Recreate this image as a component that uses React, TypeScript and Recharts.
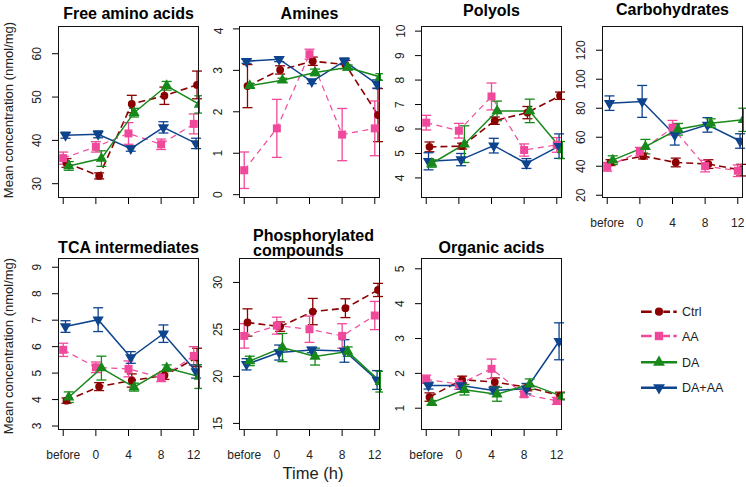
import React from 'react';
import { LineChart, Line, XAxis, YAxis, ErrorBar } from 'recharts';

const TIMES = ['before', '0', '4', '8', '12'];
const GROUPS = ['Ctrl', 'AA', 'DA', 'DA+AA'];

// Free amino acids
const FAA_MEAN = { Ctrl: [34.8, 31.8, 48.4, 50.3, 52.8], AA: [35.9, 38.5, 41.6, 39.1, 43.8], DA: [34.1, 35.8, 46.4, 52.6, 48.3], 'DA+AA': [41.2, 41.4, 38.1, 43.0, 39.3] };
const FAA_SE = { Ctrl: [1.0, 0.7, 2.0, 2.0, 3.2], AA: [1.4, 1.2, 2.5, 1.2, 2.3], DA: [1.0, 1.8, 1.0, 1.0, 2.0], 'DA+AA': [0.7, 0.8, 0.6, 1.3, 1.2] };

// Amines
const AMI_MEAN = { Ctrl: [2.62, 3.01, 3.22, 3.14, 1.92], AA: [0.59, 1.6, 3.39, 1.45, 1.6], DA: [2.63, 2.76, 2.95, 3.07, 2.84], 'DA+AA': [3.22, 3.27, 2.73, 3.22, 2.67] };
const AMI_SE = { Ctrl: [0.52, 0.1, 0.1, 0.1, 0.64], AA: [0.44, 0.7, 0.12, 0.63, 0.66], DA: [0.05, 0.05, 0.08, 0.06, 0.08], 'DA+AA': [0.05, 0.06, 0.05, 0.08, 0.1] };

// Polyols
const POL_MEAN = { Ctrl: [5.27, 5.3, 6.34, 6.67, 7.36], AA: [6.26, 5.93, 7.33, 5.14, 5.35], DA: [4.59, 5.38, 6.74, 6.74, 5.14], 'DA+AA': [4.68, 4.75, 5.32, 4.59, 5.3] };
const POL_SE = { Ctrl: [0.2, 0.12, 0.15, 0.25, 0.15], AA: [0.3, 0.3, 0.55, 0.25, 0.3], DA: [0.15, 0.75, 0.4, 0.48, 0.35], 'DA+AA': [0.35, 0.25, 0.3, 0.2, 0.5] };

// Carbohydrates
const CAR_MEAN = { Ctrl: [42.5, 47, 42.6, 41.5, 37.3], AA: [39.6, 50, 66.6, 40.1, 36.9], DA: [44.2, 53.5, 65.5, 69.7, 72], 'DA+AA': [83.5, 84.7, 61.6, 68.5, 57.4] };
const CAR_SE = { Ctrl: [2, 2, 3, 3, 4], AA: [3, 3, 5, 4, 4], DA: [3, 5, 4, 3, 8], 'DA+AA': [5, 11, 7, 5, 5] };

// TCA intermediates
const TCA_MEAN = { Ctrl: [3.96, 4.49, 4.72, 4.91, 5.59], AA: [5.88, 5.22, 5.16, 4.83, 5.65], DA: [4.09, 5.19, 4.47, 5.19, 4.87], 'DA+AA': [6.76, 7.02, 5.59, 6.49, 5.06] };
const TCA_SE = { Ctrl: [0.1, 0.15, 0.25, 0.15, 0.35], AA: [0.25, 0.2, 0.3, 0.15, 0.35], DA: [0.2, 0.45, 0.15, 0.12, 0.45], 'DA+AA': [0.22, 0.45, 0.22, 0.33, 0.25] };

// Phosphorylated compounds
const PHO_MEAN = { Ctrl: [25.74, 25.3, 26.9, 27.26, 29.2], AA: [24.31, 25.4, 25.02, 24.31, 26.48], DA: [21.65, 23.07, 22.11, 22.64, 19.44], 'DA+AA': [21.29, 22.54, 22.82, 22.71, 19.62] };
const PHO_SE = { Ctrl: [1.45, 0.5, 1.4, 1.0, 0.7], AA: [1.3, 0.9, 1.4, 1.3, 1.5], DA: [0.5, 1.5, 0.9, 0.5, 1.1], 'DA+AA': [0.6, 0.8, 0.3, 1.2, 1.0] };

// Organic acids
const ORG_MEAN = { Ctrl: [1.32, 1.82, 1.75, 1.6, 1.36], AA: [1.83, 1.69, 2.13, 1.4, 1.21], DA: [1.16, 1.53, 1.4, 1.69, 1.34], 'DA+AA': [1.65, 1.65, 1.51, 1.56, 2.92] };
const ORG_SE = { Ctrl: [0.12, 0.1, 0.12, 0.1, 0.1], AA: [0.12, 0.15, 0.28, 0.08, 0.1], DA: [0.06, 0.15, 0.2, 0.15, 0.1], 'DA+AA': [0.1, 0.1, 0.1, 0.15, 0.53] };

const STYLE: Record<string, any> = {
  Ctrl: { color: '#8B0000', dash: '7 4', width: 1.6, shape: 'circle', shift: 0.1 },
  AA: { color: '#F0489A', dash: '6 4.5', width: 1.2, shape: 'square', shift: 0 },
  DA: { color: '#17891A', dash: undefined, width: 1.5, shape: 'up', shift: 0.17 },
  'DA+AA': { color: '#0E448E', dash: undefined, width: 1.5, shape: 'down', shift: 0.07 },
};
const DRAW_ORDER = ['Ctrl', 'AA', 'DA+AA', 'DA'];

const FONT = '"Liberation Sans", Arial, Helvetica, sans-serif';
const COL_X = [58, 239, 421, 602];
const ROW_Y = [26, 258];
const BOX_W = 141;
const BOX_H = 172;
const Y_AXIS_W = 50;
const X_AXIS_H = 36;
const M_TOP = 4;
const M_RIGHT = 3;
const X_DOMAIN = [-0.16, 4.16];

const PANELS = [
  { title: 'Free amino acids', col: 0, row: 0, mean: FAA_MEAN, se: FAA_SE, domain: [26.7, 66.4], ticks: [30, 40, 50, 60], xLabels: false },
  { title: 'Amines', col: 1, row: 0, mean: AMI_MEAN, se: AMI_SE, domain: [-0.08, 4.07], ticks: [0, 1, 2, 3, 4], xLabels: false },
  { title: 'Polyols', col: 2, row: 0, mean: POL_MEAN, se: POL_SE, domain: [3.18, 10.21], ticks: [4, 5, 6, 7, 8, 9, 10], xLabels: false },
  { title: 'Carbohydrates', col: 3, row: 0, mean: CAR_MEAN, se: CAR_SE, domain: [18.1, 136.7], ticks: [20, 40, 60, 80, 100, 120], xLabels: true },
  { title: 'TCA intermediates', col: 0, row: 1, mean: TCA_MEAN, se: TCA_SE, domain: [2.85, 9.35], ticks: [3, 4, 5, 6, 7, 8, 9], xLabels: true },
  { title: 'Phosphorylated compounds', col: 1, row: 1, mean: PHO_MEAN, se: PHO_SE, domain: [14.3, 32.6], ticks: [15, 20, 25, 30], xLabels: true },
  { title: 'Organic acids', col: 2, row: 1, mean: ORG_MEAN, se: ORG_SE, domain: [0.375, 5.31], ticks: [1, 2, 3, 4, 5], xLabels: true },
];

// title baselines as they sit in the figure
const TITLES = [
  { text: 'Free amino acids', x: 128.5, y: 19, anchor: 'middle' },
  { text: 'Amines', x: 309.5, y: 18.5, anchor: 'middle' },
  { text: 'Polyols', x: 491.5, y: 15.5, anchor: 'middle' },
  { text: 'Carbohydrates', x: 672.5, y: 14.5, anchor: 'middle' },
  { text: 'TCA intermediates', x: 128.5, y: 253, anchor: 'middle' },
  { text: 'Phosphorylated', x: 253, y: 241, anchor: 'start' },
  { text: 'compounds', x: 253, y: 255.5, anchor: 'start' },
  { text: 'Organic acids', x: 491.5, y: 253, anchor: 'middle' },
];

function Marker({ shape, cx, cy, color, s = 1 }: any) {
  if (cx == null || cy == null) return <g />;
  if (shape === 'circle') return <circle cx={cx} cy={cy} r={3.9 * s} fill={color} />;
  if (shape === 'square') return <rect x={cx - 4 * s} y={cy - 4 * s} width={8 * s} height={8 * s} fill={color} />;
  const r = 6.5 * s;
  const xc = r * 0.866;
  const yc = r / 2;
  if (shape === 'up') return <polygon points={`${cx},${cy - r} ${cx + xc},${cy + yc} ${cx - xc},${cy + yc}`} fill={color} />;
  return <polygon points={`${cx},${cy + r} ${cx + xc},${cy - yc} ${cx - xc},${cy - yc}`} fill={color} />;
}

const YTick = (props: any) => {
  const { x, y, payload } = props;
  const tx = x - 8.5;
  return (
    <text x={tx} y={y} transform={`rotate(-90 ${tx} ${y})`} textAnchor="middle" fontSize={12} fontFamily={FONT} fill="#222">
      {payload.value}
    </text>
  );
};

const makeXTick = (show: boolean) => (props: any) => {
  if (!show) return <g />;
  const { x, y, payload } = props;
  return (
    <text x={x} y={y + 20.5} textAnchor="middle" fontSize={12} fontFamily={FONT} fill="#222">
      {TIMES[payload.value]}
    </text>
  );
};

function Panel({ p }: any) {
  const width = Y_AXIS_W + BOX_W + M_RIGHT;
  const height = M_TOP + BOX_H + X_AXIS_H;
  const left = COL_X[p.col];
  const top = ROW_Y[p.row];
  return (
    <>
      <div style={{ position: 'absolute', left: left - Y_AXIS_W, top: top - M_TOP }}>
        <LineChart width={width} height={height} margin={{ top: M_TOP, right: M_RIGHT, bottom: 0, left: 0 }}>
          <XAxis
            xAxisId="b"
            type="number"
            dataKey="x"
            domain={X_DOMAIN}
            ticks={[0, 1, 2, 3, 4]}
            allowDataOverflow
            height={X_AXIS_H}
            tickSize={6}
            axisLine={false}
            tickLine={{ stroke: '#000' }}
            tick={makeXTick(p.xLabels)}
          />
          <YAxis
            yAxisId="l"
            type="number"
            domain={p.domain}
            ticks={p.ticks}
            allowDataOverflow
            width={Y_AXIS_W}
            tickSize={6}
            axisLine={false}
            tickLine={{ stroke: '#000' }}
            tick={YTick}
          />
          {DRAW_ORDER.map((g) => {
            const st = STYLE[g];
            const data = p.mean[g].map((v: number, i: number) => ({ x: i + st.shift, y: v, e: p.se[g][i] }));
            return (
              <Line
                key={g}
                xAxisId="b"
                yAxisId="l"
                data={data}
                dataKey="y"
                stroke={st.color}
                strokeWidth={st.width}
                strokeDasharray={st.dash}
                type="linear"
                isAnimationActive={false}
                dot={(d: any) => <Marker key={`${g}-${d.index}`} shape={st.shape} cx={d.cx} cy={d.cy} color={st.color} />}
                activeDot={false}
              >
                <ErrorBar dataKey="e" width={5} stroke={st.color} strokeWidth={1.3} direction="y" isAnimationActive={false} />
              </Line>
            );
          })}
        </LineChart>
      </div>
      <div
        style={{
          position: 'absolute',
          left,
          top,
          width: BOX_W,
          height: BOX_H,
          border: '1px solid #111',
          boxSizing: 'border-box',
          pointerEvents: 'none',
        }}
      />
    </>
  );
}

function Legend() {
  const rows = [11.7, 36, 62.3, 87.7];
  return (
    <svg width={120} height={100} style={{ position: 'absolute', left: 630, top: 300 }}>
      {GROUPS.map((g, i) => {
        const st = STYLE[g];
        const y = rows[i];
        return (
          <g key={g}>
            <line
              x1={11}
              x2={47}
              y1={y}
              y2={y}
              stroke={st.color}
              strokeWidth={2.6}
              strokeDasharray={st.dash ? '10.7 11.6 6.7 3.3 3.4' : undefined}
            />
            <Marker shape={st.shape} cx={29} cy={y} color={st.color} s={1.05} />
            <text x={52} y={y + 4.5} fontSize={12.5} fontFamily={FONT} fill="#222">{g}</text>
          </g>
        );
      })}
    </svg>
  );
}

export default function App() {
  return (
    <div style={{ position: 'absolute', left: 0, top: 0, width: 746, height: 487, overflow: 'hidden', background: '#fff', fontFamily: FONT }}>
      <svg width={746} height={487} style={{ position: 'absolute', left: 0, top: 0 }}>
        {TITLES.map((t, i) => (
          <text key={i} x={t.x} y={t.y} textAnchor={t.anchor} fontSize={16} fontWeight="bold" fontFamily={FONT} fill="#000">
            {t.text}
          </text>
        ))}
        {[110, 346].map((cy) => (
          <text key={cy} x={12.5} y={cy} transform={`rotate(-90 12.5 ${cy})`} textAnchor="middle" fontSize={13} fontFamily={FONT} fill="#222">
            Mean concentration (nmol/mg)
          </text>
        ))}
        <text x={313} y={479} textAnchor="middle" fontSize={16.5} fontFamily={FONT} fill="#222">Time (h)</text>
      </svg>
      {PANELS.map((p) => (
        <Panel key={p.title} p={p} />
      ))}
      <Legend />
    </div>
  );
}
